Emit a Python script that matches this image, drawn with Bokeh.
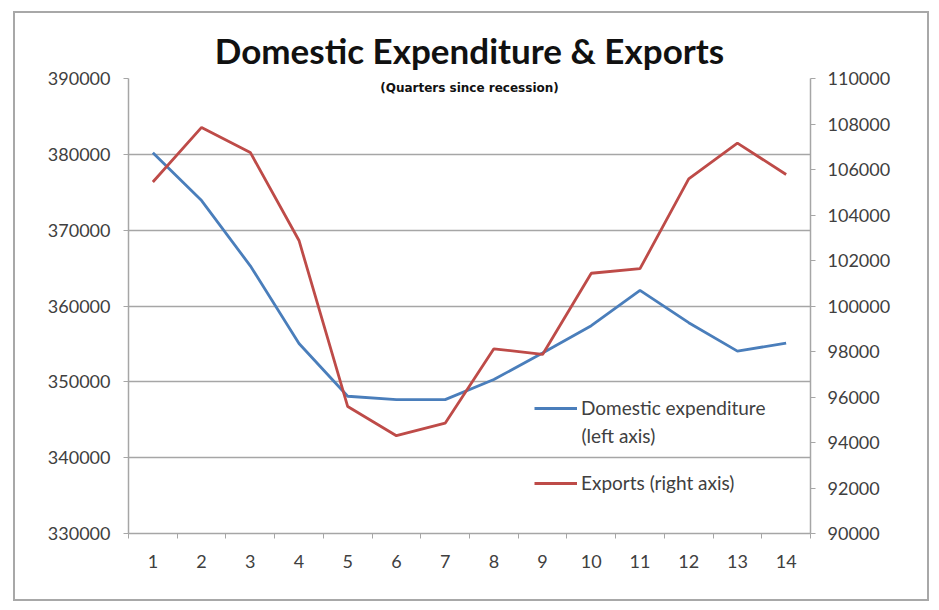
from bokeh.plotting import figure
from bokeh.models import (LinearAxis, Range1d, FixedTicker, BasicTickFormatter,
                          Legend, LegendItem, Label)
from bokeh.embed import file_html
from bokeh.resources import INLINE

quarters = list(range(1, 15))
domestic = [380200, 373900, 365300, 355050, 348100, 347650, 347650, 350300,
            353800, 357400, 362050, 357800, 354050, 355100]
exports = [105450, 107850, 106750, 102880, 95580, 94300, 94850, 98120,
           97870, 101440, 101640, 105590, 107160, 105780]
left_ticks = [330000, 340000, 350000, 360000, 370000, 380000, 390000]
right_ticks = [90000, 92000, 94000, 96000, 98000, 100000, 102000, 104000,
               106000, 108000, 110000]

TITLE = "Domestic Expenditure & Exports"
SUBTITLE = "(Quarters since recession)"
LEGEND_DOM = "Domestic expenditure"
LEGEND_DOM2 = "(left axis)"
LEGEND_EXP = "Exports (right axis)"
BLUE = "#4a7ebb"
RED = "#be4b48"
GRID = "#a6a6a6"
TXT = "#404040"
FONT = "Lato"

p = figure(width=916, height=590, output_backend="svg", toolbar_location=None,
           x_range=Range1d(0.5, 14.5), y_range=Range1d(330000, 390000),
           min_border_left=113, min_border_right=121, min_border_top=65,
           min_border_bottom=70, title=TITLE,
           styles={"border": "2px solid #a8a8a8", "margin-left": "13px", "margin-top": "11px"})
p.extra_y_ranges = {"right": Range1d(90000, 110000)}
p.outline_line_color = None
p.background_fill_color = "white"
p.border_fill_color = "white"

p.title.text_font = FONT
p.title.text_font_size = "35px"
p.title.text_font_style = "bold"
p.title.text_color = "#111111"
p.title.align = "center"
p.title.standoff = 15

# x axis
xa = p.xaxis[0]
xa.ticker = FixedTicker(ticks=quarters, minor_ticks=[q - 0.5 for q in quarters] + [14.5])
xa.major_tick_out = 0
xa.major_tick_in = 0
xa.minor_tick_out = 5
xa.minor_tick_in = 0
xa.minor_tick_line_color = GRID
xa.axis_line_color = GRID
xa.axis_line_width = 1.5
xa.major_label_text_font = FONT
xa.major_label_text_font_size = "18px"
xa.major_label_text_color = TXT
xa.major_label_standoff = 16

# left axis
ya = p.yaxis[0]
ya.ticker = FixedTicker(ticks=left_ticks)
ya.formatter = BasicTickFormatter(use_scientific=False)
ya.major_tick_out = 5
ya.major_tick_in = 0
ya.minor_tick_line_color = None
ya.major_tick_line_color = GRID
ya.axis_line_color = GRID
ya.axis_line_width = 1.5
ya.major_label_text_font = FONT
ya.major_label_text_font_size = "18px"
ya.major_label_text_color = TXT
ya.major_label_standoff = 13

# right axis
ra = LinearAxis(y_range_name="right", ticker=FixedTicker(ticks=right_ticks),
                formatter=BasicTickFormatter(use_scientific=False))
ra.major_tick_out = 5
ra.major_tick_in = 0
ra.minor_tick_line_color = None
ra.major_tick_line_color = GRID
ra.axis_line_color = GRID
ra.axis_line_width = 1.5
ra.major_label_text_font = FONT
ra.major_label_text_font_size = "18px"
ra.major_label_text_color = TXT
ra.major_label_standoff = 12
p.add_layout(ra, "right")

p.xgrid.grid_line_color = None
p.ygrid.grid_line_color = GRID
p.ygrid.grid_line_width = 1.5

r1 = p.line(quarters, domestic, line_color=BLUE, line_width=2.8)
r2 = p.line(quarters, exports, line_color=RED, line_width=2.8, y_range_name="right")

sub = Label(x=7.5, y=390000, text=SUBTITLE, text_font="DejaVu Sans", text_font_size="12px",
            text_font_style="bold", text_color="#111111", text_align="center",
            text_baseline="top", y_offset=-2)
p.add_layout(sub)

legend = Legend(items=[LegendItem(label=LEGEND_DOM, renderers=[r1]),
                       LegendItem(label=LEGEND_EXP, renderers=[r2])],
                location=(406, 39), orientation="vertical")
legend.background_fill_alpha = 0
legend.border_line_color = None
legend.label_text_font = FONT
legend.label_text_font_size = "19px"
legend.label_text_color = TXT
legend.glyph_width = 43
legend.label_standoff = 4
legend.spacing = 52
legend.padding = 0
legend.margin = 0
p.add_layout(legend, "center")

# second line of the first legend entry
leg2 = Label(x=9.8, y=342900, text=LEGEND_DOM2, text_font=FONT, text_font_size="19px",
             text_color=TXT, text_align="left", text_baseline="middle")
p.add_layout(leg2)

open("out.html", "w").write(file_html(p, INLINE))
